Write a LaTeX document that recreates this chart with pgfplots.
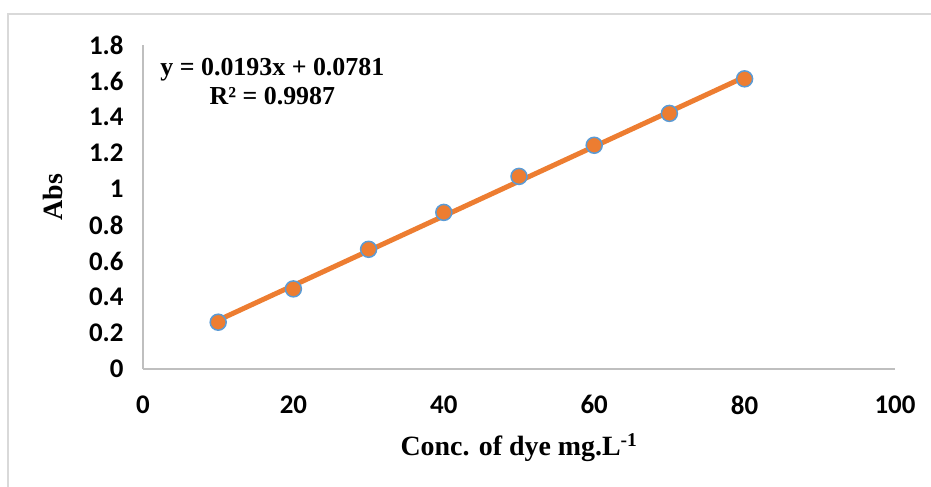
\documentclass[border=0pt]{standalone}
\usepackage{pgfplots}
\pgfplotsset{compat=1.18}
\usepackage{fontspec}
\setmainfont{Liberation Serif}
\newfontfamily\calibri{Carlito}
\definecolor{xlblue}{HTML}{5B9BD5}
\definecolor{xlorange}{HTML}{ED7D31}
\definecolor{xlaxis}{HTML}{BFBFBF}
\definecolor{xlframe}{HTML}{D9D9D9}
\begin{document}
\begin{tikzpicture}
  \useasboundingbox (-143bp,-118bp) rectangle (788bp,369bp);
  \draw[xlframe, line width=2bp] (-135bp,-118bp) -- (-135bp,355bp) -- (788bp,355bp);
  \begin{axis}[
      scale only axis,
      width=752bp, height=324bp,
      xmin=0, xmax=100, ymin=0, ymax=1.8,
      xtick={0,20,...,100},
      ytick={0,0.2,...,1.8},
      axis x line*=bottom,
      axis y line*=left,
      axis line style={xlaxis, line width=1.5bp, -},
      major tick length=0pt,
      tick label style={font=\calibri\bfseries\fontsize{27}{27}\selectfont},
      /pgf/number format/assume math mode=true,
      xticklabel style={yshift=-23bp},
      yticklabel style={xshift=-16bp},
      xlabel={\bfseries Conc. of dye mg.L\textsuperscript{-1}},
      ylabel={\bfseries Abs},
      label style={font=\fontsize{28}{28}\selectfont},
      xlabel style={yshift=-12bp},
      ylabel style={yshift=19bp, xshift=10bp},
      clip=false,
    ]
    % measured points
    \addplot[only marks, mark=*, mark size=8bp,
             mark options={fill=xlorange, draw=xlblue, line width=1.5bp}]
      coordinates {
        (10,0.260) (20,0.445) (30,0.665) (40,0.870)
        (50,1.070) (60,1.243) (70,1.420) (80,1.612)
      };
    % linear trendline y = 0.0193x + 0.0781
    \addplot[xlorange, line width=5bp, no marks]
      coordinates {(10,0.2711) (80,1.6221)};
    \node[font=\bfseries\fontsize{26}{29}\selectfont, align=center]
      at (axis cs:17.2,1.595) {y = 0.0193x + 0.0781\\R² = 0.9987};
  \end{axis}
\end{tikzpicture}
\end{document}
